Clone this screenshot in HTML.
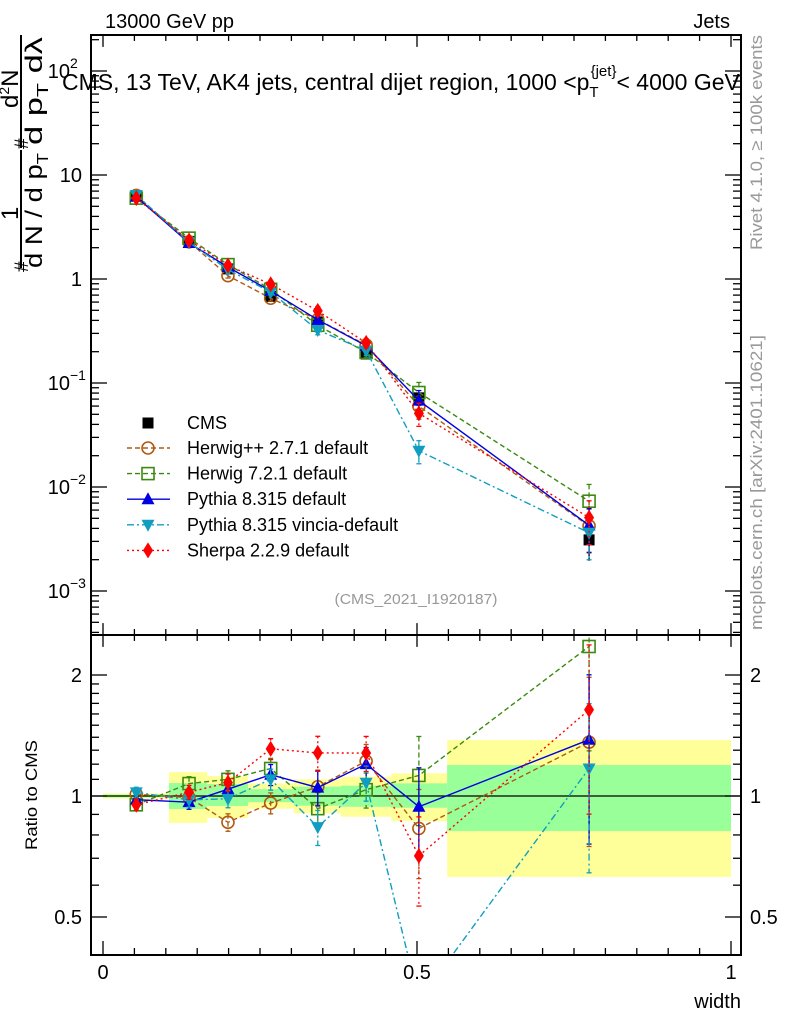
<!DOCTYPE html>
<html><head><meta charset="utf-8"><style>
html,body{margin:0;padding:0;background:#fff}
svg{display:block;font-family:"Liberation Sans",sans-serif}
</style></head><body>
<svg id="chart" width="786" height="1024" viewBox="0 0 786 1024" xmlns="http://www.w3.org/2000/svg">
<g id="bands"></g>
<g id="marks"></g>
<g id="axes"></g>
<text x="105" y="28" font-size="20">13000 GeV pp</text>
<text x="730" y="28" font-size="20" text-anchor="end">Jets</text>
<text x="62" y="90" font-size="23">CMS, 13 TeV, AK4 jets, central dijet region, 1000 &lt;p<tspan font-size="15" dy="7">T</tspan><tspan font-size="15" dy="-21" dx="-8">{jet}</tspan><tspan dy="14">&lt; 4000 GeV</tspan></text>
<text x="416" y="604" font-size="15" fill="#999" text-anchor="middle" textLength="163" lengthAdjust="spacingAndGlyphs">(CMS_2021_I1920187)</text>
<text transform="translate(762,250) rotate(-90)" font-size="17" fill="#999" textLength="215" lengthAdjust="spacingAndGlyphs">Rivet 4.1.0, ≥ 100k events</text>
<text transform="translate(762,630) rotate(-90)" font-size="17" fill="#999" textLength="295" lengthAdjust="spacingAndGlyphs">mcplots.cern.ch [arXiv:2401.10621]</text>
<g font-size="24">
  <text transform="translate(18,220) rotate(-90)">1</text>
  <line x1="21" y1="268" x2="21" y2="150" stroke="#000" stroke-width="2"/>
  <text transform="translate(42,268) rotate(-90)" textLength="115" lengthAdjust="spacingAndGlyphs">d N / d p<tspan font-size="16" dy="6">T</tspan></text>
  <text transform="translate(28,272) rotate(-90)" font-size="19">#</text>
  <text transform="translate(18,108) rotate(-90)">d<tspan font-size="14" dy="-9">2</tspan><tspan dy="9">N</tspan></text>
  <line x1="21" y1="148" x2="21" y2="35" stroke="#000" stroke-width="2"/>
  <text transform="translate(42,145) rotate(-90)" textLength="108" lengthAdjust="spacingAndGlyphs">d p<tspan font-size="16" dy="6">T</tspan><tspan dy="-6"> dλ</tspan></text>
  <text transform="translate(28,149) rotate(-90)" font-size="19">#</text>
</g>
<text transform="translate(37,850) rotate(-90)" font-size="17" textLength="110" lengthAdjust="spacingAndGlyphs">Ratio to CMS</text>
<text x="741" y="1008" font-size="20" text-anchor="end">width</text>
<g id="legend"></g>
</svg>
<script>
const xCenters = [0.053, 0.137, 0.199, 0.267, 0.342, 0.419, 0.503, 0.774];
const binEdges = [0, 0.105, 0.166, 0.231, 0.304, 0.379, 0.459, 0.548, 1.0];
const cmsValues = [6.3, 2.3, 1.25, 0.68, 0.386, 0.19, 0.072, 0.0031];
const bandTotUp = [1.015, 1.147, 1.121, 1.075, 1.10, 1.117, 1.139, 1.378];
const bandTotDn = [0.985, 0.857, 0.882, 0.93, 0.906, 0.888, 0.866, 0.629];
const bandStatUp = [1.008, 1.077, 1.071, 1.04, 1.055, 1.061, 1.075, 1.194];
const bandStatDn = [0.992, 0.928, 0.944, 0.965, 0.946, 0.94, 0.935, 0.818];
const herwigPP = [6.36, 2.28, 1.075, 0.653, 0.407, 0.232, 0.0598, 0.00422];
const herwig7 = [5.99, 2.47, 1.375, 0.796, 0.359, 0.197, 0.081, 0.0073];
const pythia = [6.17, 2.22, 1.30, 0.768, 0.405, 0.228, 0.0677, 0.00428];
const vincia = [6.43, 2.25, 1.23, 0.748, 0.323, 0.205, 0.0223, 0.00363];
const sherpa = [5.99, 2.35, 1.35, 0.891, 0.494, 0.243, 0.0511, 0.00508];
const mcRelErr = [0.03, 0.04, 0.05, 0.06, 0.1, 0.1, 0.25, 0.45];
const seriesNames = ["Herwig++ 2.7.1 default","Herwig 7.2.1 default","Pythia 8.315 default","Pythia 8.315 vincia-default","Sherpa 2.2.9 default"];

const NS="http://www.w3.org/2000/svg";
const X0=91,X1=741,MT=35,MB=635,RT=635,RB=955;
const xs=v=>103+v*628;
const ys=v=>175-(Math.log10(v)-1)*104;
const yr=v=>796-Math.log2(v)*121;
function mk(tag,parent,attrs){const e=document.createElementNS(NS,tag);for(const k in attrs)e.setAttribute(k,attrs[k]);parent.appendChild(e);return e;}
const bands=document.getElementById('bands'),marks=document.getElementById('marks'),axes=document.getElementById('axes'),legend=document.getElementById('legend');

for(let i=0;i<xCenters.length;i++){
  const x=xs(binEdges[i]),w=xs(binEdges[i+1])-x;
  let r=mk('rect',bands,{x:x,y:yr(bandTotUp[i]),width:w,height:yr(bandTotDn[i])-yr(bandTotUp[i]),fill:'#ffff99'});
  
  
  r=mk('rect',bands,{x:x,y:yr(bandStatUp[i]),width:w,height:yr(bandStatDn[i])-yr(bandStatUp[i]),fill:'#99ff99'});
  
  
}
let one=mk('line',bands,{x1:X0,x2:X1,y1:yr(1),y2:yr(1),stroke:'#000','stroke-width':1.3});



const defs=mk('defs',document.getElementById('chart'),{});
const c1=mk('clipPath',defs,{id:'cm'});mk('rect',c1,{x:X0,y:MT,width:X1-X0,height:MB-MT});
const c2=mk('clipPath',defs,{id:'cr'});mk('rect',c2,{x:X0,y:RT,width:X1-X0,height:RB-RT});
const gm=mk('g',marks,{'clip-path':'url(#cm)'});
const gr=mk('g',marks,{'clip-path':'url(#cr)'});

function marker(g,type,x,y,color){
  let e;
  if(type==='circle') e=mk('circle',g,{cx:x,cy:y,r:6,fill:'none',stroke:color,'stroke-width':1.6});
  else if(type==='square') e=mk('rect',g,{x:x-6,y:y-6,width:12,height:12,fill:'none',stroke:color,'stroke-width':1.6});
  else if(type==='up') e=mk('polygon',g,{points:`${x},${y-7} ${x-6.5},${y+5} ${x+6.5},${y+5}`,fill:color});
  else if(type==='down') e=mk('polygon',g,{points:`${x},${y+7} ${x-6.5},${y-5} ${x+6.5},${y-5}`,fill:color});
  else if(type==='diamond') e=mk('polygon',g,{points:`${x},${y-8} ${x-5},${y} ${x},${y+8} ${x+5},${y}`,fill:color});
  else if(type==='sq') e=mk('rect',g,{x:x-5.5,y:y-5.5,width:11,height:11,fill:color});
  return e;
}

for(let i=0;i<xCenters.length;i++){
  const x=xs(xCenters[i]);
  mk('line',gm,{x1:x,x2:x,y1:ys(cmsValues[i]*bandTotUp[i]),y2:ys(cmsValues[i]*bandTotDn[i]),stroke:'#000','stroke-width':1.3});
  const m=marker(gm,'sq',x,ys(cmsValues[i]),'#000');
  
  
}

const series=[
 {d:herwigPP,c:'#b05a10',m:'circle',dash:'5,3'},
 {d:herwig7,c:'#3a8a10',m:'square',dash:'5,3'},
 {d:pythia,c:'#0000e0',m:'up',dash:''},
 {d:vincia,c:'#109ec0',m:'down',dash:'7,3,2,3'},
 {d:sherpa,c:'#ff0000',m:'diamond',dash:'2,3'}
];
series.forEach((s,si)=>{
  const key=seriesNames[si].toLowerCase().replace(/[^a-z0-9]+/g,'-');
  const ptsM=[],ptsR=[];
  s.d.forEach((v,i)=>{ptsM.push(xs(xCenters[i])+','+ys(v));ptsR.push(xs(xCenters[i])+','+yr(v/cmsValues[i]));});
  let l=mk('polyline',gm,{points:ptsM.join(' '),fill:'none',stroke:s.c,'stroke-width':1.4,'stroke-dasharray':s.dash});
  
  
  l=mk('polyline',gr,{points:ptsR.join(' '),fill:'none',stroke:s.c,'stroke-width':1.4,'stroke-dasharray':s.dash});
  
  
  s.d.forEach((v,i)=>{
    const x=xs(xCenters[i]),e=mcRelErr[i],r=v/cmsValues[i];
    mk('line',gm,{x1:x,x2:x,y1:ys(v*(1+e)),y2:ys(v*(1-e)),stroke:s.c,'stroke-width':1.3,'stroke-dasharray':s.dash});
    mk('line',gr,{x1:x,x2:x,y1:yr(r*(1+e)),y2:yr(r*(1-e)),stroke:s.c,'stroke-width':1.3,'stroke-dasharray':s.dash});
    [[gm,ys(v*(1+e))],[gm,ys(v*(1-e))],[gr,yr(r*(1+e))],[gr,yr(r*(1-e))]].forEach(([g,y])=>mk('line',g,{x1:x-2.5,x2:x+2.5,y1:y,y2:y,stroke:s.c,'stroke-width':1.3}));
    let m=marker(gm,s.m,x,ys(v),s.c);
    
    
    m=marker(gr,s.m,x,yr(r),s.c);
    
    
  });
  const ly=448+si*25.6;
  mk('line',legend,{x1:127,x2:170,y1:ly,y2:ly,stroke:s.c,'stroke-width':1.4,'stroke-dasharray':s.dash});
  marker(legend,s.m,148,ly,s.c);
  const t=mk('text',legend,{x:187,y:ly+6,'font-size':18});
  t.textContent=seriesNames[si];
  
  
});
marker(legend,'sq',148,423,'#000');
const ct=mk('text',legend,{x:187,y:429,'font-size':18});ct.textContent='CMS';



mk('rect',axes,{x:X0,y:MT,width:X1-X0,height:MB-MT,fill:'none',stroke:'#000','stroke-width':2});
mk('rect',axes,{x:X0,y:RT,width:X1-X0,height:RB-RT,fill:'none',stroke:'#000','stroke-width':2});
for(let k=0;k<=20;k++){
  const v=k*0.05,x=xs(v);if(x>X1)break;
  const L=(k%10===0)?14:7;
  [[MB,-1],[MT,1],[RB,-1],[RT,1]].forEach(([y,d])=>mk('line',axes,{x1:x,x2:x,y1:y,y2:y+d*L*(y===MT||y===MB?0.85:1),stroke:'#000','stroke-width':1.3}));
}
[['0',0],['0.5',0.5],['1',1]].forEach(([t,v])=>{const e=mk('text',axes,{x:xs(v),y:979,'font-size':20,'text-anchor':'middle'});e.textContent=t;});
for(let p=-4;p<=2;p++){
  for(let m=1;m<10;m++){
    const v=m*Math.pow(10,p),y=ys(v);if(y<MT||y>MB)continue;
    const L=m===1?16:8;
    mk('line',axes,{x1:X0,x2:X0+L,y1:y,y2:y,stroke:'#000','stroke-width':1.3});
    mk('line',axes,{x1:X1,x2:X1-L,y1:y,y2:y,stroke:'#000','stroke-width':1.3});
  }
}
const mlabels=[[2,'10','2'],[1,'10',''],[0,'1',''],[-1,'10','−1'],[-2,'10','−2'],[-3,'10','−3']];
mlabels.forEach(([p,b,s])=>{
  const e=mk('text',axes,{x:s?70:82,y:ys(Math.pow(10,p))+7,'font-size':20,'text-anchor':'end'});e.textContent=b;
  if(s){const t=mk('text',axes,{x:70,y:ys(Math.pow(10,p))-3,'font-size':14});t.textContent=s;}
});
[0.5,0.6,0.7,0.8,0.9,1,1.1,1.2,1.3,1.4,1.5,1.6,1.7,1.8,1.9,2].forEach(v=>{
  const y=yr(v),L=(v===0.5||v===1||v===2)?16:8;
  mk('line',axes,{x1:X0,x2:X0+L,y1:y,y2:y,stroke:'#000','stroke-width':1.3});
  mk('line',axes,{x1:X1,x2:X1-L,y1:y,y2:y,stroke:'#000','stroke-width':1.3});
});
[['2',2],['1',1],['0.5',0.5]].forEach(([t,v])=>{
  let e=mk('text',axes,{x:82,y:yr(v)+7,'font-size':20,'text-anchor':'end'});e.textContent=t;
  e=mk('text',axes,{x:750,y:yr(v)+7,'font-size':20});e.textContent=t;
});
</script>
</body></html>
